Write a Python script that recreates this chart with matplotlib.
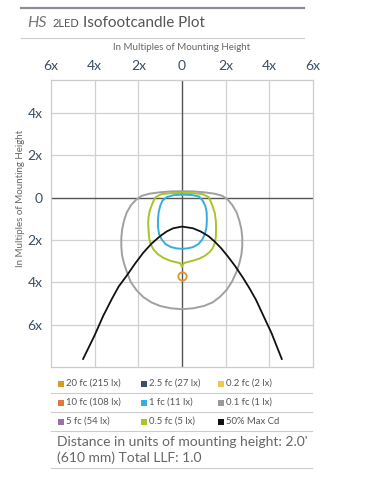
import matplotlib.pyplot as plt
from matplotlib.lines import Line2D
from matplotlib.patches import Rectangle

plt.rcParams['font.family'] = ['Lato', 'DejaVu Sans']

# contour data (x, y in multiples of mounting height; negative y = in front)
gray_x = [0, 0.5, 1.0, 1.5, 1.85, 2.1, 2.3, 2.5, 2.63, 2.72, 2.76, 2.76, 2.72, 2.63, 2.5, 2.3,
          2.05, 1.75, 1.4, 1.0, 0.5, 0,
          -0.5, -1.0, -1.4, -1.77, -2.08, -2.35, -2.53, -2.66, -2.75, -2.78, -2.78, -2.74, -2.66,
          -2.53, -2.33, -2.1, -1.85, -1.5, -1.0, -0.5, 0]
gray_y = [0.3, 0.29, 0.25, 0.18, 0.08, -0.1, -0.35, -0.7, -1.1, -1.5, -1.9, -2.3, -2.7, -3.1,
          -3.5, -3.95, -4.35, -4.68, -4.95, -5.12, -5.23, -5.27,
          -5.23, -5.12, -4.95, -4.7, -4.38, -3.98, -3.5, -3.1, -2.7, -2.3, -1.9, -1.5, -1.1,
          -0.7, -0.35, -0.1, 0.08, 0.18, 0.25, 0.29, 0.3]

green_x = [0, 0.5, 0.95, 1.22, 1.3, 1.38, 1.5, 1.55, 1.56, 1.55, 1.5, 1.4, 1.26, 1.05, 0.8,
           0.5, 0.23, 0.08, 0.03, 0,
           -0.03, -0.08, -0.24, -0.55, -0.86, -1.1, -1.31, -1.43, -1.5, -1.53, -1.55, -1.53,
           -1.47, -1.38, -1.3, -1.2, -0.95, -0.5, 0]
green_y = [0.22, 0.21, 0.16, 0.02, -0.15, -0.35, -0.72, -1.1, -1.5, -1.85, -2.15, -2.4, -2.58,
           -2.75, -2.88, -2.98, -3.05, -3.1, -3.2, -3.27,
           -3.2, -3.1, -3.06, -2.98, -2.84, -2.68, -2.45, -2.2, -1.95, -1.6, -1.2, -0.9,
           -0.6, -0.35, -0.15, 0.02, 0.16, 0.21, 0.22]

blue_x = [0, 0.45, 0.78, 0.95, 1.07, 1.13, 1.14, 1.12, 1.05, 0.93, 0.75, 0.5, 0.25, 0,
          -0.25, -0.5, -0.75, -0.93, -1.05, -1.1, -1.1, -1.07, -1.0, -0.9, -0.7, -0.4, 0]
blue_y = [0.14, 0.12, 0.05, -0.15, -0.4, -0.7, -1.05, -1.4, -1.72, -1.98, -2.2, -2.34,
          -2.4, -2.42,
          -2.4, -2.34, -2.2, -1.98, -1.72, -1.4, -1.05, -0.7, -0.4, -0.15, 0.02, 0.11, 0.14]

cd_x = [-4.53, -4.0, -3.61, -3.22, -2.9, -2.54, -2.15, -1.77, -1.4, -1.0, -0.7, -0.4, 0,
        0.5, 0.85, 1.21, 1.5, 1.8, 2.1, 2.43, 2.8, 3.1, 3.4, 3.66, 4.1, 4.57]
cd_y = [-7.62, -6.5, -5.59, -4.8, -4.2, -3.7, -3.12, -2.6, -2.18, -1.82, -1.6, -1.45, -1.37,
        -1.45, -1.6, -1.82, -2.08, -2.4, -2.78, -3.23, -3.8, -4.3, -4.85, -5.43, -6.4, -7.62]

peak_x = [0]
peak_y = [-3.7]

xticks = [-6, -4, -2, 0, 2, 4, 6]
xlabels = ['6x', '4x', '2x', '0', '2x', '4x', '6x']
yticks = [4, 2, 0, -2, -4, -6]
ylabels = ['4x', '2x', '0', '2x', '4x', '6x']

legend_labels = [['20 fc (215 lx)', '2.5 fc (27 lx)', '0.2 fc (2 lx)'],
                 ['10 fc (108 lx)', '1 fc (11 lx)', '0.1 fc (1 lx)'],
                 ['5 fc (54 lx)', '0.5 fc (5 lx)', '50% Max Cd']]
legend_colors = [['#d29c2a', '#3d4f66', '#eec653'],
                 ['#e07838', '#35ade0', '#9a9a9a'],
                 ['#a06fa8', '#a8c42a', '#111111']]

W, H = 368, 480
fig = plt.figure(figsize=(W / 100, H / 100), dpi=100)

def fx(px):
    return px / W

def fy(py):
    return 1 - py / H

ax = fig.add_axes([fx(51), fy(367), fx(313) - fx(51), fy(80) - fy(367)])
ax.set_xlim(-6, 6)
ax.set_ylim(-8, 5.55)

for v in [-4, -2, 2, 4]:
    ax.axvline(v, color='#d0d0d0', lw=0.9, zorder=0)
for v in [4, 2, -2, -4, -6]:
    ax.axhline(v, color='#d0d0d0', lw=0.9, zorder=0)
ax.axvline(0, color='#555555', lw=1.0, zorder=1)
ax.axhline(0, color='#555555', lw=1.0, zorder=1)

ax.plot(gray_x, gray_y, color='#a0a0a0', lw=1.4, zorder=2)
ax.plot(green_x, green_y, color='#a8c42a', lw=1.4, zorder=3)
ax.plot(blue_x, blue_y, color='#35ade0', lw=1.4, zorder=4)
ax.plot(cd_x, cd_y, color='#111111', lw=1.3, zorder=5)
ax.plot(peak_x, peak_y, 'o', ms=6, mfc='none', mec='#e0962a', mew=1.3, zorder=6)

for s in ax.spines.values():
    s.set_color('#cccccc')
    s.set_linewidth(0.9)

ax.xaxis.tick_top()
ax.set_xticks(xticks)
ax.set_xticklabels(xlabels)
ax.set_yticks(yticks)
ax.set_yticklabels(ylabels)
ax.tick_params(length=0, labelsize=10, labelcolor='#3a4d63', pad=6)

fig.text(fx(182), fy(48), 'In Multiples of Mounting Height', ha='center', va='center',
         fontsize=7, color='#666666')
fig.text(fx(21), fy(198), 'In Multiples of Mounting Height', ha='center', va='center',
         rotation=90, fontsize=7, color='#666666')

# title block
fig.add_artist(Line2D([fx(21), fx(304)], [fy(7.5), fy(7.5)], color='#8a8f96', lw=1.6))
fig.add_artist(Line2D([fx(21), fx(304)], [fy(38), fy(38)], color='#cccccc', lw=0.8))
fig.text(fx(27), fy(27), 'HS', style='italic', fontsize=11.5, color='#777777', va='baseline')
fig.text(fx(53), fy(27), '2LED', fontsize=8, color='#555555', va='baseline')
fig.text(fx(83), fy(27), 'Isofootcandle Plot', fontsize=11, color='#555555', va='baseline')

# legend
row_y = [383.5, 402.5, 421.5]
col_x = [58, 141, 218]
for r in range(3):
    for c in range(3):
        fig.add_artist(Rectangle((fx(col_x[c]), fy(row_y[r] + 3)), 6 / W, 6 / H,
                                 color=legend_colors[r][c], lw=0))
        fig.text(fx(col_x[c] + 8), fy(row_y[r]), legend_labels[r][c], fontsize=6.8,
                 color='#555555', va='center')
    fig.add_artist(Line2D([fx(51), fx(312)], [fy(row_y[r] + 9), fy(row_y[r] + 9)],
                          color='#cccccc', lw=0.8))
fig.add_artist(Line2D([fx(51), fx(312)], [fy(468), fy(468)], color='#cccccc', lw=0.8))

fig.text(fx(57), fy(442), "Distance in units of mounting height: 2.0'", fontsize=10,
         color='#666666', va='center')
fig.text(fx(57), fy(458), "(610 mm) Total LLF: 1.0", fontsize=10,
         color='#666666', va='center')

fig.savefig('out.png', dpi=100)
